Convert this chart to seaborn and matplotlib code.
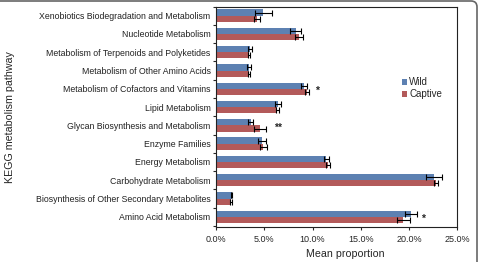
import pandas as pd
import numpy as np
import matplotlib.pyplot as plt
import seaborn as sns
from matplotlib.patches import FancyBboxPatch

categorie = ["Xenobiotics Biodegradation and Metabolism", "Nucleotide Metabolism",
             "Metabolism of Terpenoids and Polyketides", "Metabolism of Other Amino Acids",
             "Metabolism of Cofactors and Vitamins", "Lipid Metabolism",
             "Glycan Biosynthesis and Metabolism", "Enzyme Families", "Energy Metabolism",
             "Carbohydrate Metabolism", "Biosynthesis of Other Secondary Metabolites",
             "Amino Acid Metabolism"]
wild = [4.9, 8.25, 3.5, 3.45, 9.07, 6.42, 3.57, 4.78, 11.4, 22.6, 1.6, 20.2]
wild_err = [0.9, 0.55, 0.22, 0.2, 0.3, 0.35, 0.3, 0.4, 0.25, 0.85, 0.1, 0.6]
captive = [4.2, 8.6, 3.45, 3.45, 9.38, 6.32, 4.54, 4.88, 11.6, 22.75, 1.55, 19.4]
captive_err = [0.3, 0.4, 0.1, 0.1, 0.2, 0.15, 0.65, 0.35, 0.2, 0.2, 0.1, 0.65]
# asterischi di significativita
signif = {"Metabolism of Cofactors and Vitamins": ("*", 10.5),
          "Glycan Biosynthesis and Metabolism": ("**", 6.4),
          "Amino Acid Metabolism": ("*", 21.4)}

df = pd.DataFrame({"Pathway": categorie * 2,
                   "Mean": wild + captive,
                   "Err": wild_err + captive_err,
                   "Group": ["Wild"] * len(categorie) + ["Captive"] * len(categorie)})

sns.set_style("ticks")
plt.rcParams['font.family'] = ['Liberation Sans', 'DejaVu Sans']

fig = plt.figure(figsize=(4.78, 2.62), dpi=100)
ax = fig.add_axes([0.452, 0.134, 0.505, 0.841])
colori = {"Wild": "#4F7FC0", "Captive": "#C24B4B"}
sns.barplot(data=df, y="Pathway", x="Mean", hue="Group", palette=colori,
            orient="h", width=0.68, errorbar=None, ax=ax, edgecolor="none")

# barre di errore sui rettangoli disegnati da seaborn
for cont, gruppo in zip(ax.containers, ["Wild", "Captive"]):
    sub = df[df["Group"] == gruppo]
    ys = [b.get_y() + b.get_height() / 2 for b in cont]
    ax.errorbar(sub["Mean"], ys, xerr=sub["Err"], fmt="none", ecolor="black",
                elinewidth=0.8, capsize=2, capthick=0.8)

for nome, (txt, xpos) in signif.items():
    ax.text(xpos, categorie.index(nome) + 0.12, txt, ha="center", va="center",
            fontsize=7.5, fontweight="bold")

ax.set_xlim(0, 25)
ax.set_ylim(11.55, -0.5)
ax.set_xticks(np.arange(0, 26, 5))
ax.set_xticklabels([f"{v:.1f}%" for v in np.arange(0, 26, 5)], fontsize=6.5)
ax.set_yticks(range(len(categorie)))
ax.set_yticklabels(categorie, fontsize=6.3, color="#222222")
ax.set_yticks(np.arange(-0.5, len(categorie), 1), minor=True)
ax.tick_params(axis="y", which="major", length=0, pad=4)
ax.tick_params(axis="y", which="minor", length=2.5, width=0.8)
ax.tick_params(axis="x", length=2.5, width=0.8, pad=3)
ax.set_xlabel("Mean proportion", fontsize=7.7)
ax.xaxis.set_label_coords(0.535, -0.1)
ax.set_ylabel("KEGG metabolism pathway", fontsize=7.7, labelpad=15)
for s in ax.spines.values():
    s.set_linewidth(0.8)
    s.set_color("#222222")

ax.legend(loc="upper left", bbox_to_anchor=(0.77, 0.68), frameon=False, fontsize=7,
          handlelength=0.55, handleheight=0.55, handletextpad=0.2, labelspacing=0.25,
          borderaxespad=0, borderpad=0)

# cornice arrotondata della figura
fig.add_artist(FancyBboxPatch((-20, -20), 497, 281, boxstyle="round,pad=0,rounding_size=6",
                              transform=None, facecolor="none", edgecolor="#666666",
                              linewidth=1.2))
fig.savefig("out.png", dpi=100)
